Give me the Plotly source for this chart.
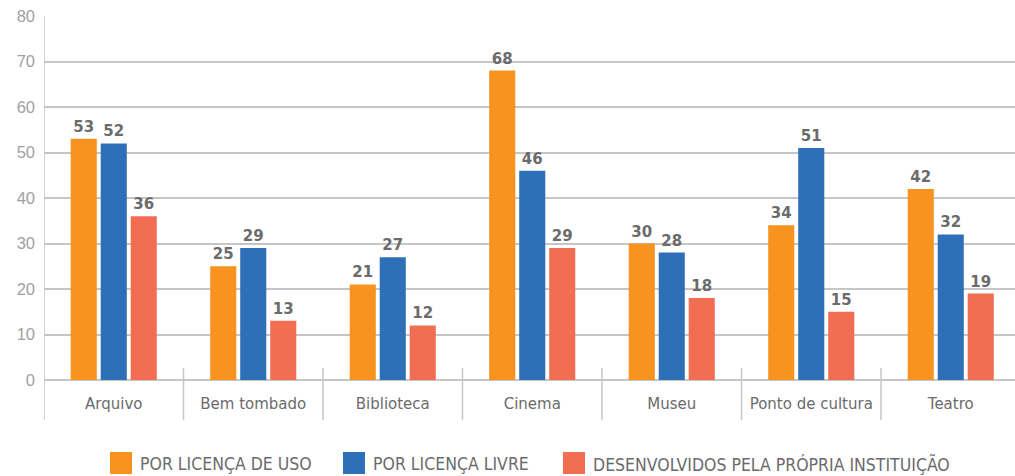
import plotly.graph_objects as go

categorias = ["Arquivo", "Bem tombado", "Biblioteca", "Cinema", "Museu", "Ponto de cultura", "Teatro"]
licenca_uso = [53, 25, 21, 68, 30, 34, 42]
licenca_livre = [52, 29, 27, 46, 28, 51, 32]
propria_instituicao = [36, 13, 12, 29, 18, 15, 19]
series_nomes = ["POR LICENÇA DE USO", "POR LICENÇA LIVRE", "DESENVOLVIDOS PELA PRÓPRIA INSTITUIÇÃO"]
y_ticks = [0, 10, 20, 30, 40, 50, 60, 70, 80]

cores = ["#F7931E", "#2E70B8", "#F26E52"]
cinza_grade = "#C6C6C6"

W, H = 1015, 476
ML, MR, MT, MB = 44, 0, 16, 96
plot_w = W - ML - MR
plot_h = H - MT - MB
cat_px = 139.5  # width of one category band in pixels

fig = go.Figure()
for nome, valores, cor in zip(series_nomes, [licenca_uso, licenca_livre, propria_instituicao], cores):
    fig.add_trace(go.Bar(
        x=categorias, y=valores, name=nome,
        marker=dict(color=cor, line=dict(width=0)),
        text=[str(v) for v in valores], textposition="outside",
        textfont=dict(family="DejaVu Sans", size=15, color="#6B6B6B", weight="bold"),
        cliponaxis=False, showlegend=False,
    ))

x_max = -0.5 + plot_w / cat_px

shapes = []
# left axis line
shapes.append(dict(type="line", xref="x", yref="paper", x0=-0.5, x1=-0.5,
                   y0=1, y1=-40 / plot_h, line=dict(color=cinza_grade, width=1.5)))
# category separators below the axis
for i in range(len(categorias) - 1):
    shapes.append(dict(type="line", xref="x", yref="paper", x0=i + 0.5, x1=i + 0.5,
                       y0=12 / plot_h, y1=-40 / plot_h, line=dict(color=cinza_grade, width=1.5)))

# legend built from swatches and labels
annotations = []
legenda_x = [110, 343, 563]
sw = 22
sq_top, sq_bot = 452, 474
for nome, cor, lx in zip(series_nomes, cores, legenda_x):
    shapes.append(dict(type="rect", xref="paper", yref="paper",
                       x0=(lx - ML) / plot_w, x1=(lx + sw - ML) / plot_w,
                       y0=(MT + plot_h - sq_bot) / plot_h, y1=(MT + plot_h - sq_top) / plot_h,
                       fillcolor=cor, line=dict(width=0)))
    annotations.append(dict(xref="paper", yref="paper", x=(lx + sw + 6 - ML) / plot_w,
                            y=(MT + plot_h - 464) / plot_h, xanchor="left", yanchor="middle",
                            text=nome, showarrow=False,
                            font=dict(family="Liberation Sans Narrow, DejaVu Sans Condensed, Arial Narrow, sans-serif",
                                      size=17.5, color="#6B6B6B")))

fig.update_layout(
    width=W, height=H,
    margin=dict(l=ML, r=MR, t=MT, b=MB),
    paper_bgcolor="white", plot_bgcolor="white",
    barmode="group", bargap=0.355, bargroupgap=0.13,
    shapes=shapes, annotations=annotations,
    xaxis=dict(range=[-0.5, x_max], showgrid=False, showline=False, zeroline=False,
               ticks="", ticklabelstandoff=13,
               tickfont=dict(family="DejaVu Sans", size=15, color="#6B6B6B")),
    yaxis=dict(range=[0, 80], tickvals=y_ticks, showgrid=True, gridcolor=cinza_grade, gridwidth=1.5,
               zeroline=True, zerolinecolor=cinza_grade, zerolinewidth=1.5, showline=False,
               ticks="", ticklabelstandoff=8,
               tickfont=dict(family="Liberation Sans, Arial, sans-serif", size=16.5, color="#A0A0A0")),
    showlegend=False,
)

fig.write_html("out.html")
